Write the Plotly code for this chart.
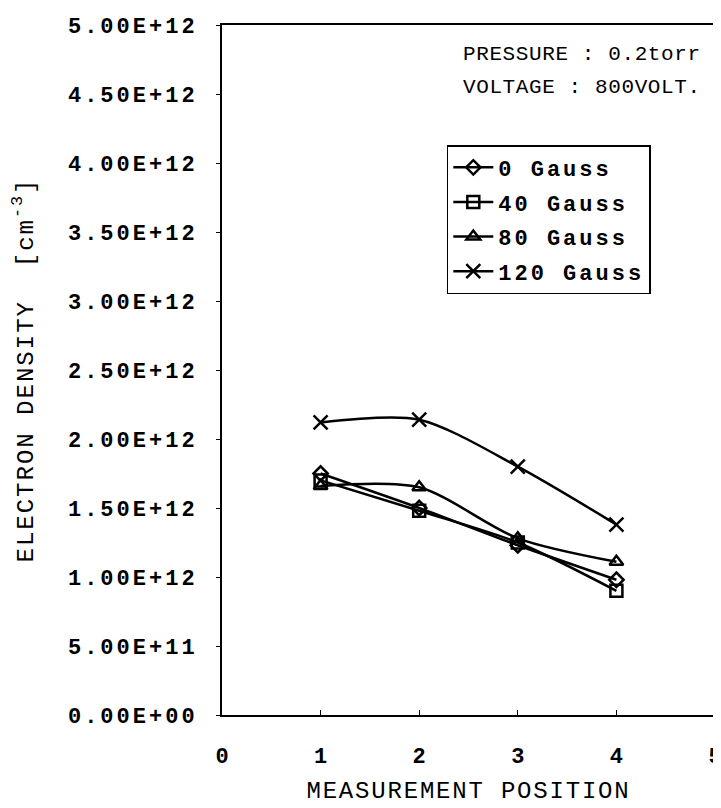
import plotly.graph_objects as go

positions = [1, 2, 3, 4]
series_names = ["0 Gauss", "40 Gauss", "80 Gauss", "120 Gauss"]
g0 = [1.75e12, 1.50e12, 1.23e12, 0.98e12]
g40 = [1.70e12, 1.48e12, 1.25e12, 0.90e12]
g80 = [1.66e12, 1.65e12, 1.28e12, 1.11e12]
g120 = [2.12e12, 2.14e12, 1.80e12, 1.38e12]
symbols = ["diamond-open", "square-open", "triangle-up-open", "x-thin"]
msizes = [11, 12, 12, 14]

ytick_vals = [0, 5e11, 1e12, 1.5e12, 2e12, 2.5e12, 3e12, 3.5e12, 4e12, 4.5e12, 5e12]
ytick_text = ["0.00E+00", "5.00E+11", "1.00E+12", "1.50E+12", "2.00E+12",
              "2.50E+12", "3.00E+12", "3.50E+12", "4.00E+12", "4.50E+12", "5.00E+12"]
xtick_vals = [0, 1, 2, 3, 4, 5]
note_lines = ["PRESSURE : 0.2torr", "VOLTAGE : 800VOLT."]

MONO = "Liberation Mono, Courier New, monospace"


def spaced(t, px):
    return f'<span style="letter-spacing:{px}px">{t}</span>'


fig = go.Figure()
for name, vals, sym, ms in zip(series_names, [g0, g40, g80, g120], symbols, msizes):
    fig.add_trace(go.Scatter(
        x=positions, y=vals, name=spaced(name, 3), mode="lines+markers",
        legendgroup=name,
        line=dict(color="black", width=2.5, shape="spline", smoothing=0.8),
        marker=dict(symbol=sym, size=ms, color="black",
                    line=dict(color="black", width=2.5)),
    ))

fig.update_layout(
    width=721, height=808,
    margin=dict(l=214, r=7, t=16, b=101),
    paper_bgcolor="white", plot_bgcolor="white",
    font=dict(family=MONO, color="black"),
    showlegend=True,
    legend=dict(
        x=0.456, y=0.826, xanchor="left", yanchor="top",
        bordercolor="black", borderwidth=1.5, bgcolor="white",
        font=dict(family=MONO, size=22, color="black", weight="bold"),
        itemwidth=40, tracegroupgap=3,
    ),
    xaxis=dict(
        range=[0, 5], tickvals=xtick_vals, ticktext=[str(v) for v in xtick_vals],
        showgrid=False, zeroline=False, showline=True, linecolor="black", linewidth=2,
        mirror=True, ticks="inside", ticklen=5, tickcolor="black",
        ticklabelstandoff=20,
        tickfont=dict(family=MONO, size=22, color="black", weight="bold"),
        title=dict(text=spaced("MEASUREMENT POSITION", 1.8), standoff=12,
                   font=dict(family=MONO, size=24, color="black")),
    ),
    yaxis=dict(
        range=[0, 5e12], tickvals=ytick_vals, ticktext=[spaced(t, 3) for t in ytick_text],
        showgrid=False, zeroline=False, showline=True, linecolor="black", linewidth=2,
        mirror=True, ticks="outside", ticklen=4, tickcolor="black",
        ticklabelstandoff=14,
        tickfont=dict(family=MONO, size=22, color="black", weight="bold"),
        title=dict(text=spaced("ELECTRON DENSITY  [cm<sup>-3</sup>]", 2), standoff=28,
                   font=dict(family=MONO, size=24, color="black")),
    ),
)

for line, ypos in zip(note_lines, [0.9566, 0.910]):
    fig.add_annotation(
        xref="paper", yref="paper", x=0.976, y=ypos, xanchor="right", yanchor="middle",
        text=spaced(line, 0.6), showarrow=False, align="right",
        font=dict(family=MONO, size=21, color="black"),
    )

fig.write_html("out.html")
